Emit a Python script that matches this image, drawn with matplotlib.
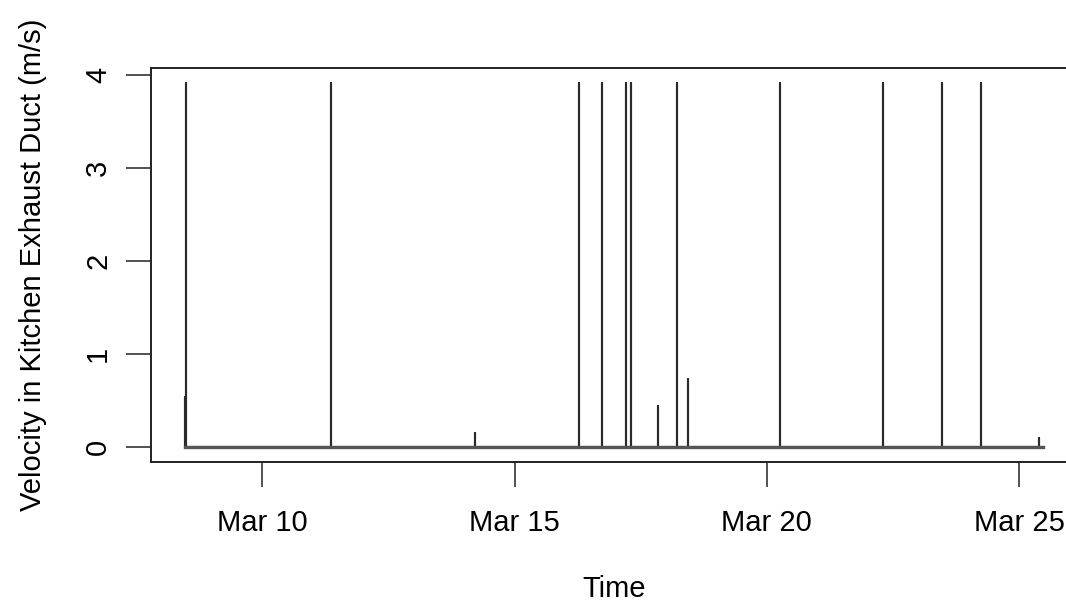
import datetime as dt
import matplotlib
matplotlib.use("Agg")
import matplotlib.pyplot as plt
import matplotlib.dates as mdates

# spikes: (day of March, velocity m/s)
spike_days = [8.47, 8.49, 11.35, 14.21, 16.28, 16.73, 17.21, 17.31,
              17.85, 18.21, 18.43, 20.26, 22.30, 23.47, 24.24, 25.40]
spike_vals = [0.54, 3.92, 3.92, 0.15, 3.92, 3.92, 3.92, 3.92,
              0.45, 3.92, 0.74, 3.92, 3.92, 3.92, 3.92, 0.10]
start_day, end_day = 8.47, 25.47

def mar(d):
    return dt.datetime(2015, 3, 1) + dt.timedelta(days=d - 1)

# build the trace: baseline at 0 with vertical excursions
t = [mar(start_day)]
v = [0.0]
for d, val in zip(spike_days, spike_vals):
    t += [mar(d), mar(d), mar(d)]
    v += [0.0, val, 0.0]
t.append(mar(end_day))
v.append(0.0)

plt.rcParams['font.family'] = ['Liberation Sans', 'DejaVu Sans']

fig = plt.figure(figsize=(10.66, 6.05), dpi=100)
ax = fig.add_axes([151/1066, 1 - 462/605, (1077 - 151)/1066, (462 - 68)/605])

ax.plot(t, v, color='#2a2a2a', lw=1.5)
ax.plot([mar(start_day), mar(end_day)], [0, 0], color='#555555', lw=2.4)

span = end_day - start_day
ax.set_xlim(mar(start_day - 0.04*span), mar(end_day + 0.04*span))
ax.set_ylim(-0.04*3.92, 3.92*1.04)

ax.set_xticks([mar(10), mar(15), mar(20), mar(25)])
ax.xaxis.set_major_formatter(mdates.DateFormatter('%b %d'))
ax.set_yticks([0, 1, 2, 3, 4])
ax.tick_params(direction='out', length=18, width=1.2, labelsize=21, color='#333333')
ax.tick_params(axis='x', pad=16)
ax.tick_params(axis='y', pad=10)
for lab in ax.get_yticklabels():
    lab.set_rotation(90)
    lab.set_va('center')

for s in ax.spines.values():
    s.set_linewidth(1.4)
    s.set_color('#222222')

ax.set_xlabel('Time', fontsize=21, labelpad=27)
ax.set_ylabel('Velocity in Kitchen Exhaust Duct (m/s)', fontsize=21, labelpad=27)

fig.savefig('out.png', dpi=100)
